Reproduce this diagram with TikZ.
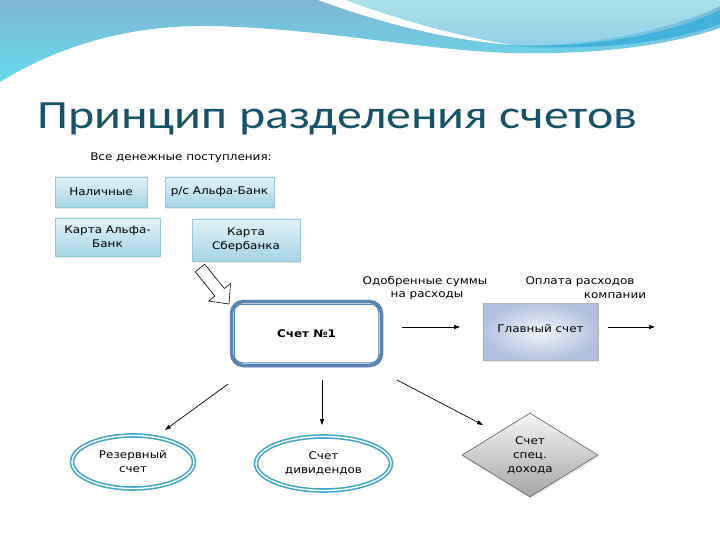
\documentclass[tikz,border=0pt]{standalone}
\usepackage{fontspec}
\setmainfont{DejaVu Sans}[FakeStretch=1.14]
\newfontfamily\titlefont{Carlito}[FakeStretch=1.245]
\usetikzlibrary{arrows.meta,shapes.geometric,shadows,calc}
\definecolor{titlec}{RGB}{22,82,104}
\definecolor{boxtop}{RGB}{226,243,248}
\definecolor{boxbot}{RGB}{166,212,228}
\definecolor{boxdraw}{RGB}{150,200,218}
\definecolor{acc}{RGB}{88,132,182}
\definecolor{ellc}{RGB}{66,165,204}
\definecolor{mainin}{RGB}{242,245,250}
\definecolor{mainout}{RGB}{178,193,223}
\definecolor{bandtop}{RGB}{128,182,212}
\definecolor{bandbot}{RGB}{100,220,238}
\definecolor{paletop}{RGB}{168,226,232}
\definecolor{palebot}{RGB}{146,206,233}
\definecolor{stripe}{RGB}{66,178,218}
\begin{document}
\begin{tikzpicture}[x=1pt,y=-1pt,
  lbl/.style={font=\fontsize{10.5}{14}\selectfont, align=center, inner sep=0pt},
  inbox/.style={lbl, rectangle, draw=boxdraw, top color=boxtop, bottom color=boxbot,
     drop shadow={shadow xshift=1pt, shadow yshift=-2pt, opacity=0.18}},
  accell/.style={lbl, ellipse, draw=ellc, double=white, double distance=1.4pt, line width=1.6pt},
  arr/.style={-{Triangle[length=6pt,width=4pt]}, line width=0.7pt}]
\useasboundingbox (0,0) rectangle (720,540);
\fill[white] (0,0) rectangle (720,540);
% background wave
\path[top color=bandtop, bottom color=bandbot]
  (0,0) -- (0,82) .. controls (60,45) and (130,25) .. (210,26)
  .. controls (320,28) and (420,50) .. (510,53)
  .. controls (600,55) and (670,45) .. (720,28) -- (720,0) -- cycle;
\path[fill=stripe] (500,45) .. controls (600,50) and (680,30) .. (720,10)
  -- (720,24) .. controls (680,40) and (600,53) .. (500,45) -- cycle;
\path[top color=paletop, bottom color=palebot]
  (328,0) .. controls (400,26) and (460,40) .. (515,45)
  .. controls (600,47) and (680,26) .. (720,6) -- (720,0) -- cycle;
\path[fill=white] (318,0) .. controls (390,26) and (450,40) .. (513,45)
  .. controls (455,36) and (400,20) .. (345,0) -- cycle;
% title
\node[anchor=base west, inner sep=0pt, text=titlec, font=\titlefont\fontsize{40}{44}\selectfont] (title) at (37,129) {Принцип разделения счетов};
% inputs
\node[lbl] (hdr) at (181,158) {Все денежные поступления:};
\node[inbox, minimum width=92, minimum height=30] (n1) at (101,192) {Наличные};
\node[inbox, minimum width=109, minimum height=30] (n2) at (219.5,192) {р/с Альфа-Банк};
\node[inbox, minimum width=105, minimum height=38] (n3) at (107.5,237) {Карта Альфа-\\Банк};
\node[inbox, minimum width=108, minimum height=42] (n4) at (246,240) {Карта\\Сбербанка};
% block arrow
\draw[line width=0.6pt, fill=white] (204.7,264.2) -- (224.3,288.5) -- (230.5,283.5) -- (229,304)
  -- (208.7,301.1) -- (214.9,296.1) -- (195.3,271.8) -- cycle;
% account 1
\node[lbl, font=\bfseries\fontsize{10.5}{14}\selectfont, rectangle, rounded corners=12pt, draw=acc, line width=3.5pt, fill=white,
  minimum width=150, minimum height=64,
  drop shadow={shadow xshift=1pt, shadow yshift=-2pt, opacity=0.2}] (s1) at (306.5,333.5) {Счет №1};
\draw[acc, line width=1pt, rounded corners=8pt] ($(s1.north west)+(4.5,4.5)$) rectangle ($(s1.south east)+(-4.5,-4.5)$);
% main account
\node[lbl, rectangle, draw=gray!60, inner color=mainin, outer color=mainout,
  minimum width=115, minimum height=57,
  drop shadow={shadow xshift=1pt, shadow yshift=-2pt, opacity=0.18}] (m) at (540.5,331.5) {\raisebox{6pt}{Главный счет}};
% labels
\node[lbl] (l1a) at (425,282) {Одобренные суммы};
\node[lbl] (l1b) at (427,296) {на расходы};
\node[lbl] (l2a) at (580,282) {Оплата расходов};
\node[lbl] (l2b) at (615,296) {компании};
% arrows right
\coordinate (a1s) at (402,327); \coordinate (a1e) at (460,327);
\coordinate (a2s) at (608,327); \coordinate (a2e) at (655,327);
\draw[arr] (a1s) -- (a1e);
\draw[arr] (a2s) -- (a2e);
% bottom nodes
\node[accell, minimum width=122, minimum height=53] (r) at (133,462) {Резервный\\счет};
\node[accell, minimum width=135, minimum height=54] (dv) at (323.5,463.5) {Счет\\дивидендов};
\node[lbl, diamond, draw=gray!75!black, line width=0.6pt, top color=gray!8, bottom color=gray!70,
  minimum width=136, minimum height=84,
  drop shadow={shadow xshift=1pt, shadow yshift=-2pt, opacity=0.18}] (sp) at (530,455) {Счет\\спец.\\дохода};
% arrows down
\coordinate (b1s) at (228,384); \coordinate (b1e) at (165,430);
\coordinate (b2s) at (322,380); \coordinate (b2e) at (322,425);
\coordinate (b3s) at (397,380); \coordinate (b3e) at (483,425);
\draw[arr] (b1s) -- (b1e);
\draw[arr] (b2s) -- (b2e);
\draw[arr] (b3s) -- (b3e);
\end{tikzpicture}
\end{document}
